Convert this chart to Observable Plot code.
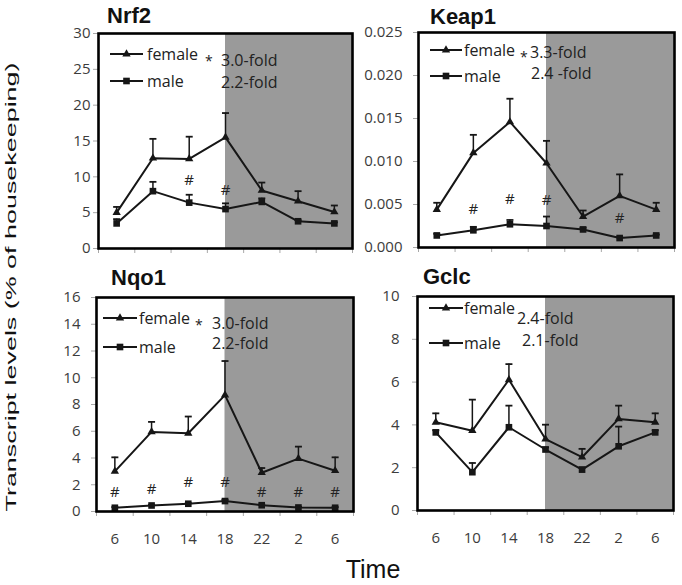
<!DOCTYPE html>
<html>
<head>
<meta charset="utf-8">
<script src="https://cdn.jsdelivr.net/npm/d3@7"></script>
<script src="https://cdn.jsdelivr.net/npm/@observablehq/plot@0.6"></script>
<style>
  body { margin: 0; background: #fff; }
  #chart { position: relative; width: 682px; height: 585px; overflow: hidden; background: #fff; }
  #chart svg { position: absolute; overflow: visible; }
</style>
</head>
<body>
<div id="chart"></div>
<script>
// ---------- data ----------
const times = ["6", "10", "14", "18", "22", "2", "6"];
const darkStartLabel = "18";

const nrf2Female    = [5.0, 12.6, 12.5, 15.5, 8.1, 6.6, 5.1];
const nrf2FemaleErr = [0.8, 2.7, 3.1, 3.4, 1.1, 1.4, 0.9];
const nrf2Male      = [3.5, 8.0, 6.4, 5.5, 6.5, 3.8, 3.5];
const nrf2MaleErr   = [0.6, 1.3, 1.1, 0.8, 0.5, 0.15, 0.15];
const nrf2HashIdx   = [2, 3];
const nrf2HashY     = [9.5, 8.1];

const keap1Female    = [0.0044, 0.0110, 0.0146, 0.0098, 0.0036, 0.0060, 0.0044];
const keap1FemaleErr = [0.0008, 0.0021, 0.0027, 0.0026, 0.0007, 0.0025, 0.0008];
const keap1Male      = [0.0014, 0.0020, 0.0027, 0.0025, 0.0021, 0.0011, 0.0014];
const keap1MaleErr   = [0.0002, 0.0004, 0.0005, 0.0011, 0.0002, 0.0001, 0.0001];
const keap1HashIdx   = [1, 2, 3, 5];
const keap1HashY     = [0.0045, 0.0056, 0.0055, 0.0034];

const nqo1Female    = [3.0, 5.95, 5.85, 8.7, 2.9, 3.95, 3.05];
const nqo1FemaleErr = [1.05, 0.75, 1.25, 2.55, 0.35, 0.9, 1.0];
const nqo1Male      = [0.28, 0.45, 0.58, 0.78, 0.47, 0.3, 0.28];
const nqo1MaleErr   = [0.05, 0.05, 0.05, 0.1, 0.05, 0.05, 0.05];
const nqo1HashIdx   = [0, 1, 2, 3, 4, 5, 6];
const nqo1HashY     = [1.45, 1.7, 2.2, 2.2, 1.45, 1.45, 1.45];

const gclcFemale    = [4.12, 3.73, 6.11, 3.34, 2.49, 4.28, 4.12];
const gclcFemaleErr = [0.42, 1.45, 0.73, 0.67, 0.39, 0.62, 0.42];
const gclcMale      = [3.65, 1.79, 3.89, 2.85, 1.91, 3.0, 3.65];
const gclcMaleErr   = [0.1, 0.43, 1.01, 0.1, 0.1, 0.92, 0.1];
const gclcHashIdx   = [];
const gclcHashY     = [];

const seriesNames = ["female", "male"];
const yTitle = "Transcript levels (% of housekeeping)";
const xTitle = "Time";

const panels = [
  {name: "Nrf2", female: nrf2Female, femaleErr: nrf2FemaleErr, male: nrf2Male, maleErr: nrf2MaleErr,
   hashIdx: nrf2HashIdx, hashY: nrf2HashY, yMax: 30, yStep: 5, yFmt: d3.format("d"),
   star: true, fold: ["3.0-fold", "2.2-fold"], xLabels: false},
  {name: "Keap1", female: keap1Female, femaleErr: keap1FemaleErr, male: keap1Male, maleErr: keap1MaleErr,
   hashIdx: keap1HashIdx, hashY: keap1HashY, yMax: 0.025, yStep: 0.005, yFmt: d3.format(".3f"),
   star: true, fold: ["3.3-fold", "2.4 -fold"], xLabels: false},
  {name: "Nqo1", female: nqo1Female, femaleErr: nqo1FemaleErr, male: nqo1Male, maleErr: nqo1MaleErr,
   hashIdx: nqo1HashIdx, hashY: nqo1HashY, yMax: 16, yStep: 2, yFmt: d3.format("d"),
   star: true, fold: ["3.0-fold", "2.2-fold"], xLabels: true},
  {name: "Gclc", female: gclcFemale, femaleErr: gclcFemaleErr, male: gclcMale, maleErr: gclcMaleErr,
   hashIdx: gclcHashIdx, hashY: gclcHashY, yMax: 10, yStep: 2, yFmt: d3.format("d"),
   star: false, fold: ["2.4-fold", "2.1-fold"], xLabels: true}
];

// ---------- layout (positions/styles only) ----------
const layouts = {
  Nrf2:  {frame: [98, 33, 352, 248],  tickPad: 3,  title: [107, 23],
          lg: {lx0: 12, lx1: 45, fy: 21, my: 48, tx: 49, sx: 107, f1: [123, 27], f2: [123, 49]}},
  Keap1: {frame: [418, 32, 674, 247], tickPad: 11, title: [430, 24],
          lg: {lx0: 12, lx1: 44, fy: 18, my: 44, tx: 46, sx: 102, f1: [112, 20], f2: [113, 41]}},
  Nqo1:  {frame: [96, 297, 353, 511], tickPad: 11, title: [111, 285],
          lg: {lx0: 7, lx1: 41, fy: 21, my: 50, tx: 43, sx: 99, f1: [116, 26], f2: [116, 46]}},
  Gclc:  {frame: [417, 296, 673, 510], tickPad: 13, title: [423, 284],
          lg: {lx0: 12, lx1: 46, fy: 12, my: 47, tx: 47, sx: null, f1: [100, 22], f2: [105, 44]}}
};

const INK = "#161616";
const TICKTXT = "#3c3c3c";
const SHADE = "#9a9a9a";
const capSymbol = { draw(ctx) { ctx.moveTo(-3.5, 0); ctx.lineTo(3.5, 0); } };
const triSize = 30, sqSize = 44;

const chart = document.getElementById("chart");
const n = times.length;
const idx = d3.range(n);
const darkIdx = times.indexOf(darkStartLabel);

function legendMark(p, lg) {
  return (index, scales, values, dims) => {
    const g = d3.create("svg:g").attr("text-anchor", "start");
    const ox = dims.marginLeft, oy = dims.marginTop;
    const rows = [{y: lg.fy, sym: d3.symbolTriangle, size: triSize, label: seriesNames[0]},
                  {y: lg.my, sym: d3.symbolSquare, size: sqSize, label: seriesNames[1]}];
    const txt = (x, y, s, fs) => g.append("text").attr("x", x).attr("y", y).attr("dy", "0.35em")
        .attr("text-anchor", "start").attr("font-family", "Open Sans").attr("font-size", fs)
        .attr("fill", "#222").text(s);
    for (const r of rows) {
      g.append("line").attr("x1", ox + lg.lx0).attr("x2", ox + lg.lx1)
        .attr("y1", oy + r.y).attr("y2", oy + r.y).attr("stroke", INK).attr("stroke-width", 2);
      g.append("path").attr("d", d3.symbol(r.sym, r.size)())
        .attr("transform", `translate(${ox + (lg.lx0 + lg.lx1) / 2},${oy + r.y})`).attr("fill", INK);
      txt(ox + lg.tx, oy + r.y, r.label, 16);
    }
    if (p.star && lg.sx != null) txt(ox + lg.sx, oy + lg.fy + 7, "*", 14);
    txt(ox + lg.f1[0], oy + lg.f1[1], p.fold[0], 16);
    txt(ox + lg.f2[0], oy + lg.f2[1], p.fold[1], 16);
    return g.node();
  };
}

const ml = 70, mr = 8, mt = 8, mb = 45;

for (const p of panels) {
  const L = layouts[p.name];
  const [fx0, fy0, fx1, fy1] = L.frame;
  const width = (fx1 - fx0) + ml + mr;
  const height = (fy1 - fy0) + mt + mb;
  const rows = [];
  for (const i of idx) {
    rows.push({i, sex: "female", v: p.female[i], e: p.femaleErr[i]});
    rows.push({i, sex: "male", v: p.male[i], e: p.maleErr[i]});
  }
  const fem = rows.filter(d => d.sex === "female");
  const mal = rows.filter(d => d.sex === "male");
  const hashes = p.hashIdx.map((i, k) => ({i, y: p.hashY[k]}));
  const yTicks = d3.range(0, p.yMax + p.yStep / 2, p.yStep);

  const marks = [
    Plot.rect([darkIdx], {x1: d => d, x2: () => n - 0.5, y1: () => 0, y2: () => p.yMax, fill: SHADE}),
    Plot.axisY({ticks: yTicks, tickFormat: p.yFmt, tickSize: 5, tickPadding: L.tickPad, label: null,
                stroke: "#a8a8a8", fill: TICKTXT, fontSize: 15}),
    Plot.axisX({ticks: d3.range(n + 1).map(i => i - 0.5), tickSize: 5, label: null, stroke: "#a8a8a8", fill: "none"}),
    p.xLabels ? Plot.axisX({ticks: idx, tickFormat: i => times[i], tickSize: 0, tickPadding: 22, label: null,
                fill: TICKTXT, fontSize: 15}) : null,
    Plot.ruleX(rows, {x: "i", y1: "v", y2: d => d.v + d.e, stroke: INK, strokeWidth: 1.5}),
    Plot.dot(rows, {x: "i", y: d => d.v + d.e, symbol: capSymbol, r: 3, fill: "none", stroke: INK, strokeWidth: 1.8}),
    Plot.line(fem, {x: "i", y: "v", stroke: INK, strokeWidth: 2}),
    Plot.line(mal, {x: "i", y: "v", stroke: INK, strokeWidth: 2}),
    Plot.dot(fem, {x: "i", y: "v", symbol: "triangle", r: Math.sqrt(triSize / Math.PI), fill: INK}),
    Plot.dot(mal, {x: "i", y: "v", symbol: "square", r: Math.sqrt(sqSize / Math.PI), fill: INK}),
    Plot.text(hashes, {x: "i", y: "y", text: () => "#", fontSize: 15, fill: "#222", fontFamily: "Open Sans"}),
    legendMark(p, L.lg),
    Plot.frame({stroke: "#000", strokeWidth: 2.6})
  ];

  const svg = Plot.plot({
    width, height, marginLeft: ml, marginRight: mr, marginTop: mt, marginBottom: mb,
    style: {fontFamily: "Open Sans", fontSize: "15px", background: "transparent", overflow: "visible"},
    x: {type: "linear", domain: [-0.5, n - 0.5], label: null},
    y: {type: "linear", domain: [0, p.yMax], label: null},
    marks
  });
  svg.style.left = (fx0 - ml) + "px";
  svg.style.top = (fy0 - mt) + "px";
  chart.appendChild(svg);
}

// ---------- overlay text: titles and axis titles ----------
const ov = d3.create("svg").attr("width", 682).attr("height", 585)
  .style("left", "0px").style("top", "0px").style("pointer-events", "none");
for (const p of panels) {
  const [tx, ty] = layouts[p.name].title;
  ov.append("text").attr("x", tx).attr("y", ty)
    .attr("font-family", "Liberation Sans, Arial, sans-serif").attr("font-weight", "bold")
    .attr("font-size", 22).attr("fill", "#111").text(p.name);
}
ov.append("text").attr("transform", "translate(16,287) rotate(-90) scale(1,0.6)").attr("text-anchor", "middle")
  .attr("font-family", "Liberation Sans, Arial, sans-serif").attr("font-size", 24).attr("fill", "#111")
  .attr("textLength", 449).attr("lengthAdjust", "spacingAndGlyphs").text(yTitle);
ov.append("text").attr("x", 373).attr("y", 578).attr("text-anchor", "middle")
  .attr("font-family", "Liberation Sans, Arial, sans-serif").attr("font-size", 25).attr("fill", "#111").text(xTitle);
chart.appendChild(ov.node());
</script>
</body>
</html>
